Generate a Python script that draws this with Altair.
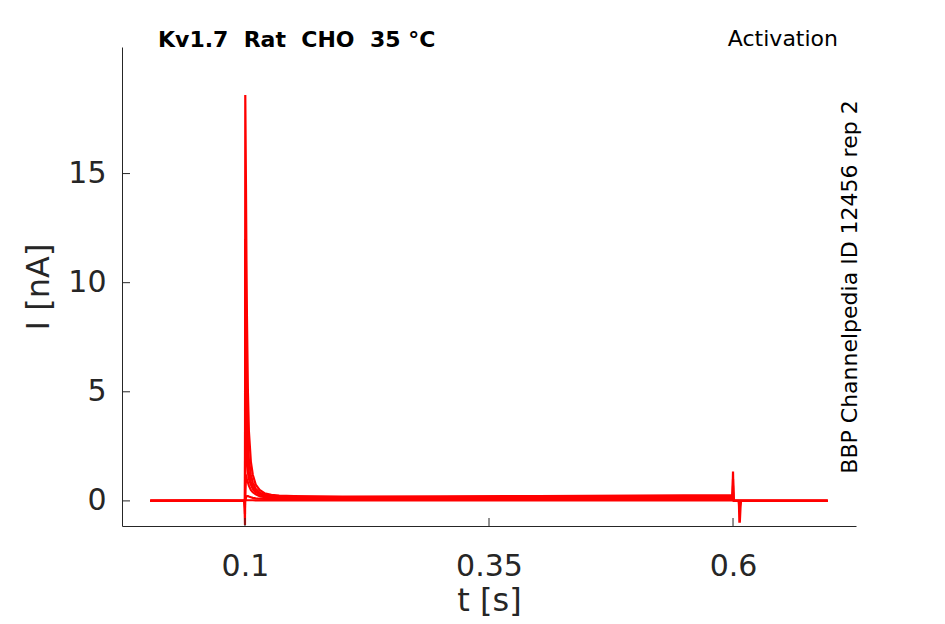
import altair as alt
import pandas as pd

# ---- data ----
t_s = [0.003, 0.05, 0.0995, 0.1, 0.1003, 0.101, 0.1015, 0.102, 0.103, 0.104, 0.106,
       0.108, 0.111, 0.115, 0.12, 0.127, 0.135, 0.15, 0.2, 0.3, 0.4, 0.5, 0.5995,
       0.6, 0.6005, 0.601, 0.606, 0.6065, 0.607, 0.608, 0.697]

trace1 = [0.0, 0.02, 0.0, -1.1, 18.6, 14.5, 11.0, 8.5, 5.0, 3.2, 1.8,
          1.2, 0.75, 0.5, 0.35, 0.28, 0.24, 0.22, 0.2, 0.21, 0.22, 0.24, 0.27,
          1.35, 0.2, 0.0, 0.0, -0.95, -0.95, 0.0, 0.0]
trace2 = [0.0, 0.0, 0.0, -0.6, 12.0, 9.0, 6.5, 4.8, 2.8, 1.9, 1.2,
          0.85, 0.55, 0.38, 0.28, 0.22, 0.2, 0.18, 0.17, 0.18, 0.19, 0.21, 0.23,
          1.0, 0.15, 0.0, 0.0, -0.5, -0.3, 0.0, 0.0]
trace3 = [0.0, 0.0, 0.0, -0.3, 7.0, 5.2, 3.8, 2.8, 1.8, 1.3, 0.9,
          0.65, 0.45, 0.32, 0.24, 0.19, 0.17, 0.15, 0.14, 0.15, 0.16, 0.17, 0.19,
          0.7, 0.1, 0.0, 0.0, -0.3, -0.2, 0.0, 0.0]
trace4 = [0.0, 0.0, 0.0, -0.2, 3.5, 2.8, 2.2, 1.8, 1.3, 1.0, 0.75,
          0.55, 0.4, 0.3, 0.22, 0.17, 0.15, 0.13, 0.12, 0.13, 0.14, 0.15, 0.16,
          0.4, 0.05, 0.0, 0.0, -0.15, -0.1, 0.0, 0.0]
trace5 = [0.0, 0.0, 0.0, 0.0, 0.5, 1.05, 1.1, 1.0, 0.85, 0.7, 0.5,
          0.4, 0.3, 0.22, 0.17, 0.14, 0.12, 0.1, 0.1, 0.1, 0.11, 0.12, 0.13,
          0.2, 0.05, 0.0, 0.0, -0.05, 0.0, 0.0, 0.0]
trace6 = [0.0, 0.0, 0.0, 0.0, 0.05, 0.15, 0.2, 0.22, 0.22, 0.2, 0.17,
          0.14, 0.12, 0.1, 0.09, 0.08, 0.07, 0.07, 0.06, 0.06, 0.06, 0.06, 0.06,
          0.1, 0.02, 0.0, 0.0, 0.0, 0.0, 0.0, 0.0]
trace7 = [0.0, 0.0, 0.0, 0.0, 0.02, 0.03, 0.03, 0.03, 0.03, 0.03, 0.03,
          0.03, 0.02, 0.02, 0.02, 0.02, 0.02, 0.02, 0.02, 0.02, 0.02, 0.02, 0.02,
          0.03, 0.0, 0.0, 0.0, 0.0, 0.0, 0.0, 0.0]

traces = [trace1, trace2, trace3, trace4, trace5, trace6, trace7]

x_ticks = [0.1, 0.35, 0.6]
y_ticks = [0, 5, 10, 15]
x_domain = [-0.026, 0.726]
y_domain = [-1.15, 20.8]

title_text = "Kv1.7\u00a0 Rat\u00a0 CHO\u00a0 35 °C"
protocol_text = "Activation"
side_text = "BBP Channelpedia ID 12456 rep 2"

W, H = 734, 479
AX = "#262626"

rows = []
for k, tr in enumerate(traces):
    for t, v in zip(t_s, tr):
        rows.append({"t": t, "I": v, "trace": k})
df = pd.DataFrame(rows)

xs = alt.Scale(domain=x_domain, nice=False, zero=False)
ys = alt.Scale(domain=y_domain, nice=False, zero=False)
x_axis = alt.Axis(values=x_ticks, labelExpr="format(datum.value, '.2~f')",
                  labelPadding=25, titlePadding=4)
y_axis = alt.Axis(values=y_ticks, labelPadding=16, titlePadding=12)

lines = alt.Chart(df).mark_line(color="#ff0000", strokeWidth=2.2, clip=True).encode(
    x=alt.X("t:Q", scale=xs, title="t [s]", axis=x_axis),
    y=alt.Y("I:Q", scale=ys, title="I [nA]", axis=y_axis),
    detail="trace:N",
    order=alt.Order("t:Q"),
)

xtick = alt.Chart(pd.DataFrame({"t": x_ticks})).mark_rule(color=AX, strokeWidth=1).encode(
    x=alt.X("t:Q", scale=xs, title="t [s]", axis=x_axis),
    y=alt.value(H), y2=alt.value(H - 8),
)
ytick = alt.Chart(pd.DataFrame({"I": y_ticks})).mark_rule(color=AX, strokeWidth=1).encode(
    y=alt.Y("I:Q", scale=ys, title="I [nA]", axis=y_axis),
    x=alt.value(0), x2=alt.value(8),
)

title = alt.Chart(pd.DataFrame({"s": [title_text]})).mark_text(
    font="DejaVu Sans", fontSize=22, fontWeight="bold", align="left", baseline="middle", color="black"
).encode(text="s:N", x=alt.value(36), y=alt.value(-7))

proto = alt.Chart(pd.DataFrame({"s": [protocol_text]})).mark_text(
    font="DejaVu Sans", fontSize=22, align="right", baseline="middle", color="black"
).encode(text="s:N", x=alt.value(716), y=alt.value(-8))

side = alt.Chart(pd.DataFrame({"s": [side_text]})).mark_text(
    font="DejaVu Sans", fontSize=22, align="center", baseline="middle", angle=270, color="black"
).encode(text="s:N", x=alt.value(728), y=alt.value(240))

chart = alt.layer(lines, xtick, ytick, title, proto, side).properties(
    width=W, height=H,
    autosize=alt.AutoSizeParams(type="none"),
    padding={"left": 114, "top": 39, "right": 70, "bottom": 92},
).configure_view(stroke=None).configure_axis(
    grid=False, ticks=False, domainColor=AX, domainWidth=1,
    labelColor=AX, titleColor=AX, labelFont="DejaVu Sans", titleFont="DejaVu Sans",
    labelFontSize=30, titleFontSize=32, titleFontWeight="normal",
)

chart.save("out.html", embed_options={"renderer": "svg", "actions": False})
